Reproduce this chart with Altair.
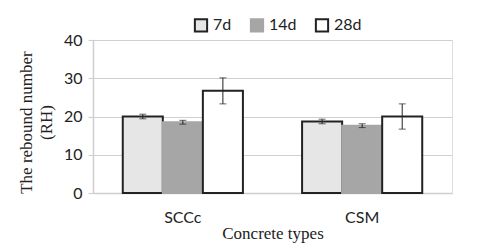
import altair as alt
import pandas as pd

types = ["SCCc", "SCCc", "SCCc", "CSM", "CSM", "CSM"]
ages = ["7d", "14d", "28d", "7d", "14d", "28d"]
values = [20.0, 18.5, 26.7, 18.7, 17.6, 20.0]
errors = [0.6, 0.5, 3.4, 0.6, 0.5, 3.3]

df = pd.DataFrame({"type": types, "age": ages, "value": values, "err": errors})
df["lo"] = df["value"] - df["err"]
df["hi"] = df["value"] + df["err"]

age_order = ["7d", "14d", "28d"]
type_order = ["SCCc", "CSM"]

x_axis = alt.Axis(title="Concrete types", labelAngle=0, labelFont="Lato",
                  labelFontSize=16, labelColor="#222", labelPadding=16,
                  titleFont="Liberation Serif", titleFontSize=17,
                  titleFontWeight="normal", titleColor="#222", titlePadding=0,
                  domainColor="#cfcfcf", domainWidth=1.5, ticks=False)
x = alt.X("type:N", sort=type_order,
          scale=alt.Scale(paddingInner=0.33, paddingOuter=0.166), axis=x_axis)
xo = alt.XOffset("age:N", sort=age_order, scale=alt.Scale(paddingInner=0, paddingOuter=0))

y_axis = alt.Axis(values=[0, 10, 20, 30, 40], title=["The rebound number", "(RH)"],
                  labelFont="Lato", labelFontSize=16, labelColor="#222", labelOverlap=False,
                  labelPadding=6, titleFont="Liberation Serif", titleFontSize=17,
                  titleFontWeight="normal", titleColor="#222", titlePadding=8,
                  titleLineHeight=20, titleY=82,
                  gridColor="#d0d0d0", gridWidth=1.2, domain=True,
                  domainColor="#cfcfcf", domainWidth=1.5,
                  ticks=True, tickSize=5, tickColor="#cfcfcf", tickWidth=1.2)
y_scale = alt.Scale(domain=[0, 40], nice=False)

bars = alt.Chart(df).mark_bar(strokeWidth=2).encode(
    x=x,
    xOffset=xo,
    y=alt.Y("value:Q", scale=y_scale, axis=y_axis),
    fill=alt.Fill("age:N", sort=age_order,
                  scale=alt.Scale(domain=age_order, range=["#e6e6e6", "#a6a6a6", "#ffffff"]),
                  legend=alt.Legend(title=None, orient="none", direction="horizontal",
                                    legendX=100, legendY=-23, labelFont="Lato",
                                    labelFontSize=16, labelColor="#222", symbolType="square",
                                    symbolSize=150, symbolStrokeWidth=2, columnPadding=14,
                                    labelOffset=4)),
    stroke=alt.Stroke("age:N", sort=age_order,
                      scale=alt.Scale(domain=age_order, range=["#222222", "#a6a6a6", "#222222"]),
                      legend=None),
)

rules = alt.Chart(df).mark_rule(color="#222", strokeWidth=1).encode(
    x=x, xOffset=xo,
    y=alt.Y("lo:Q", scale=y_scale, axis=y_axis), y2="hi:Q")
caps_lo = alt.Chart(df).mark_tick(color="#222", size=7, thickness=1).encode(
    x=x, xOffset=xo, y=alt.Y("lo:Q", scale=y_scale, axis=y_axis))
caps_hi = alt.Chart(df).mark_tick(color="#222", size=7, thickness=1).encode(
    x=x, xOffset=xo, y=alt.Y("hi:Q", scale=y_scale, axis=y_axis))

chart = alt.layer(bars, rules, caps_lo, caps_hi).properties(
    width=359, height=153,
    autosize=alt.AutoSizeParams(type="none"),
    padding={"left": 85, "top": 32, "right": 20, "bottom": 50},
).configure_view(stroke=None).configure(background="white")

chart.save("out.html", embed_options={"renderer": "svg", "actions": False})
